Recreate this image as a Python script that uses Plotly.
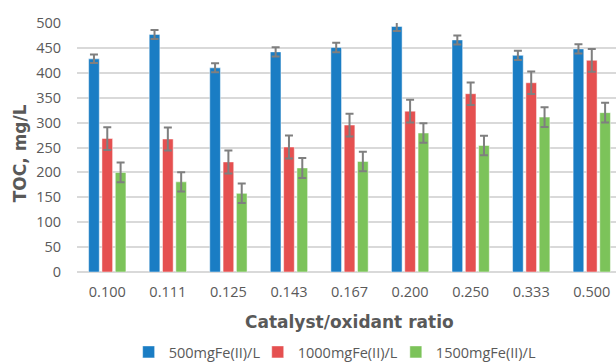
import plotly.graph_objects as go

categories = ["0.100", "0.111", "0.125", "0.143", "0.167", "0.200", "0.250", "0.333", "0.500"]
series_names = ["500mgFe(II)/L", "1000mgFe(II)/L", "1500mgFe(II)/L"]
toc_500 = [428, 477, 410, 442, 451, 493, 466, 435, 448]
toc_1000 = [268, 267, 221, 251, 295, 323, 358, 380, 425]
toc_1500 = [200, 181, 158, 209, 222, 279, 254, 311, 320]
err_500 = [8.5, 9, 9, 9.5, 9.5, 9, 9, 9.3, 9.3]
err_1000 = [22.8, 23, 23, 23, 23, 23, 22.5, 22.7, 22.8]
err_1500 = [20, 19.5, 19.5, 20, 19.5, 19.5, 19.5, 20, 20]
colors = ["#1A7DC4", "#E55050", "#7CC35A"]
y_ticks = [0, 50, 100, 150, 200, 250, 300, 350, 400, 450, 500]

W, H = 616, 363
L, R, T, B = 77.4, 0, 23.3, 91.3
pw = W - L - R
ph = H - T - B

def px_x(x):
    return (x - L) / pw

def px_y(y):
    return (H - B - y) / ph

tick_font = dict(family="Open Sans", size=14.5, color="#595959")
title_font = dict(family="DejaVu Sans", size=17, color="#595959")

fig = go.Figure()
legends = ["legend", "legend2", "legend3"]
for name, vals, errs, col, lg in zip(series_names, [toc_500, toc_1000, toc_1500],
                                     [err_500, err_1000, err_1500], colors, legends):
    fig.add_trace(go.Bar(
        x=categories, y=vals, name=name, legend=lg,
        marker=dict(color=col, line=dict(color="rgba(255,255,255,0.6)", width=0.8)),
        error_y=dict(type="data", array=errs, visible=True, color="#7F7F7F",
                     thickness=2, width=4),
    ))

leg_common = dict(orientation="h", yanchor="middle", xanchor="left",
                  font=tick_font, bgcolor="rgba(0,0,0,0)", itemwidth=30,
                  tracegroupgap=0)
legend_text_left = [169, 298, 436]
legend_objs = {}
for lg, tx in zip(legends, legend_text_left):
    legend_objs[lg] = dict(leg_common, x=px_x(tx - 40), y=px_y(351.5))

fig.update_layout(
    width=W, height=H,
    margin=dict(l=L, r=R, t=T, b=B, pad=0, autoexpand=False),
    paper_bgcolor="white", plot_bgcolor="white",
    barmode="group", bargap=0.34, bargroupgap=0.2,
    showlegend=True,
    xaxis=dict(type="category", range=[-0.5, 8.4], showgrid=False, showline=False,
               zeroline=False, ticks="outside", ticklen=7, tickcolor="rgba(0,0,0,0)",
               tickfont=tick_font, automargin=False),
    yaxis=dict(range=[0, 500], tickvals=y_ticks, showgrid=True, gridcolor="#D9D9D9",
               gridwidth=1.5, zeroline=True, zerolinecolor="#D9D9D9", zerolinewidth=1.5,
               ticks="outside", ticklen=12, tickcolor="rgba(0,0,0,0)", tickfont=tick_font,
               showline=False, automargin=False),
    annotations=[
        dict(text="<b>TOC, mg/L</b>", textangle=-90, xref="paper", yref="paper",
             x=px_x(20.7), y=px_y(153), xanchor="center", yanchor="middle",
             showarrow=False, font=title_font),
        dict(text="<b>Catalyst/oxidant ratio</b>", xref="paper", yref="paper",
             x=px_x(349.7), y=px_y(322), xanchor="center", yanchor="middle",
             showarrow=False, font=title_font),
    ],
    **legend_objs,
)

fig.write_html("out.html", config={"displayModeBar": False},
               post_script="document.body.style.margin='0';")
